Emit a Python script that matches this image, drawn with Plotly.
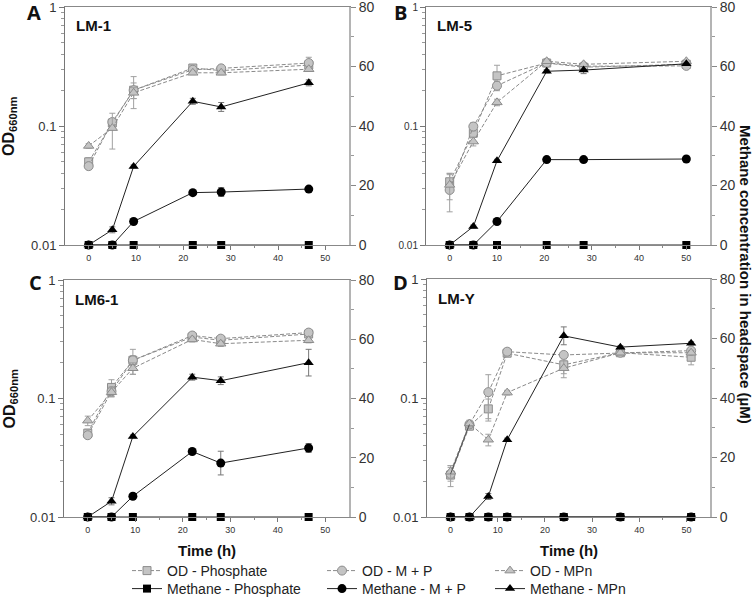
import plotly.graph_objects as go

# ---------------- data ----------------
A_t = [0, 5, 9.5, 22, 28, 46.5]
A_od_phos = [0.050, 0.106, 0.200, 0.307, 0.292, 0.325]
A_od_mp = [0.046, 0.108, 0.200, 0.297, 0.305, 0.338]
A_od_mpn = [0.068, 0.096, 0.190, 0.280, 0.280, 0.300]
A_od_phos_err = [0.004, 0.008, 0.06, 0.015, 0.01, 0.02]
A_od_mp_err = [0.003, 0.006, 0.03, 0.01, 0.01, 0.04]
A_od_mpn_err = [0.003, 0.032, 0.02, 0.01, 0.01, 0.01]
A_ch4_phos = [0, 0, 0, 0, 0, 0]
A_ch4_mp = [0, 0, 7.9, 17.6, 17.8, 18.8]
A_ch4_mpn = [0, 5.1, 26.4, 48.3, 46.4, 54.5]
A_ch4_mp_err = [0, 0, 0.5, 0.5, 1.5, 0.5]
A_ch4_mpn_err = [0, 1, 0.5, 1, 1.5, 1]

B_t = [0, 5, 10, 20.5, 28.3, 50]
B_od_phos = [0.034, 0.087, 0.264, 0.338, 0.312, 0.330]
B_od_mp = [0.029, 0.099, 0.218, 0.340, 0.318, 0.320]
B_od_mpn = [0.032, 0.074, 0.158, 0.350, 0.330, 0.350]
B_od_phos_err = [0.006, 0.006, 0.06, 0.01, 0.01, 0.01]
B_od_mp_err = [0.01, 0.008, 0.02, 0.01, 0.01, 0.01]
B_od_mpn_err = [0.008, 0.006, 0.01, 0.01, 0.01, 0.01]
B_ch4_phos = [0, 0, 0, 0, 0, 0]
B_ch4_mp = [0, 0, 7.9, 28.7, 28.7, 28.9]
B_ch4_mpn = [0, 6.2, 28.3, 58.4, 58.8, 60.9]
B_ch4_mp_err = [0, 0, 0.5, 0.5, 0.5, 0.5]
B_ch4_mpn_err = [0, 0.5, 0.5, 0.5, 1.2, 0.5]

C_t = [0, 5, 9.5, 22, 28, 46.5]
C_od_phos = [0.051, 0.124, 0.210, 0.330, 0.310, 0.350]
C_od_mp = [0.049, 0.115, 0.210, 0.340, 0.320, 0.360]
C_od_mpn = [0.065, 0.113, 0.180, 0.315, 0.290, 0.310]
C_od_phos_err = [0.004, 0.02, 0.05, 0.02, 0.015, 0.02]
C_od_mp_err = [0.003, 0.01, 0.02, 0.01, 0.01, 0.01]
C_od_mpn_err = [0.006, 0.01, 0.02, 0.015, 0.015, 0.015]
C_ch4_phos = [0, 0, 0, 0, 0, 0]
C_ch4_mp = [0, 0, 7.0, 22.1, 18.2, 23.3]
C_ch4_mpn = [0, 5.3, 27.2, 47.2, 46.0, 52.1]
C_ch4_mp_err = [0, 0, 0.5, 0.5, 4, 1.5]
C_ch4_mpn_err = [0, 1.2, 0.5, 1, 1.3, 4.5]

D_t = [0, 4, 8, 12, 24, 36, 51]
D_od_phos = [0.0225, 0.058, 0.081, 0.238, 0.190, 0.240, 0.220]
D_od_mp = [0.023, 0.060, 0.112, 0.245, 0.230, 0.240, 0.250]
D_od_mpn = [0.024, 0.061, 0.0446, 0.111, 0.178, 0.240, 0.240]
D_od_phos_err = [0.0045, 0.004, 0.017, 0.01, 0.03, 0.01, 0.03]
D_od_mp_err = [0.003, 0.004, 0.045, 0.01, 0.01, 0.01, 0.01]
D_od_mpn_err = [0.003, 0.004, 0.005, 0.005, 0.03, 0.01, 0.01]
D_ch4_phos = [0, 0, 0, 0, 0, 0, 0]
D_ch4_mp = [0, 0, 0, 0, 0, 0, 0]
D_ch4_mpn = [0, 0, 6.9, 26.0, 60.9, 57.1, 58.4]
D_ch4_mp_err = [0, 0, 0, 0, 0, 0, 0]
D_ch4_mpn_err = [0, 0, 1, 0.5, 3, 0.5, 0.5]

panel_letters = ["A", "B", "C", "D"]
strain_names = ["LM-1", "LM-5", "LM6-1", "LM-Y"]
series_names = ["OD - Phosphate", "OD - M + P", "OD - MPn",
                "Methane - Phosphate", "Methane - M + P", "Methane - MPn"]
od_ticks = [0.01, 0.1, 1]
od_ticktext = ["0.01", "0.1", "1"]
ch4_ticks = [0, 20, 40, 60, 80]
x_ticks = [0, 10, 20, 30, 40, 50]

panels = [
    (A_t, [A_od_phos, A_od_mp, A_od_mpn], [A_od_phos_err, A_od_mp_err, A_od_mpn_err],
     [A_ch4_phos, A_ch4_mp, A_ch4_mpn], [None, A_ch4_mp_err, A_ch4_mpn_err]),
    (B_t, [B_od_phos, B_od_mp, B_od_mpn], [B_od_phos_err, B_od_mp_err, B_od_mpn_err],
     [B_ch4_phos, B_ch4_mp, B_ch4_mpn], [None, B_ch4_mp_err, B_ch4_mpn_err]),
    (C_t, [C_od_phos, C_od_mp, C_od_mpn], [C_od_phos_err, C_od_mp_err, C_od_mpn_err],
     [C_ch4_phos, C_ch4_mp, C_ch4_mpn], [None, C_ch4_mp_err, C_ch4_mpn_err]),
    (D_t, [D_od_phos, D_od_mp, D_od_mpn], [D_od_phos_err, D_od_mp_err, D_od_mpn_err],
     [D_ch4_phos, D_ch4_mp, D_ch4_mpn], [None, D_ch4_mp_err, D_ch4_mpn_err]),
]

# ---------------- layout helpers ----------------
W, H = 754, 598
def px(x):
    return x / W
def py(y):
    return 1 - y / H

# pixel boxes (left, right, top, bottom)
boxes = [(65, 349, 7, 245), (426, 710, 7, 245), (64, 349, 280, 517), (427, 710, 279, 517)]

FONT = "Liberation Sans, Arial, sans-serif"
symbols = ["square", "circle", "triangle-up"]
msizes = [8, 9, 9]
legend_ids = ["legend", "legend2", "legend3", "legend4", "legend5", "legend6"]

fig = go.Figure()

for i, (t, ods, od_errs, ch4s, ch4_errs) in enumerate(panels):
    n = i + 1
    xa = "x" if n == 1 else f"x{n}"
    ya = "y" if n == 1 else f"y{n}"
    ya2 = f"y{n + 4}"
    for k in range(3):
        fig.add_trace(go.Scatter(
            x=t, y=ods[k], xaxis=xa, yaxis=ya, mode="lines+markers",
            name=series_names[k], legendgroup=series_names[k], showlegend=(i == 0),
            legend=legend_ids[k],
            line=dict(color="#8a8a8a", width=1, dash="4px,2px"),
            marker=dict(symbol=symbols[k], size=msizes[k], color="#c4c4c4",
                        line=dict(color="#8c8c8c", width=1)),
            error_y=dict(type="data", array=od_errs[k], color="#a0a0a0", thickness=1, width=3),
            cliponaxis=False,
        ))
    if n == 4:
        fig.add_trace(go.Scatter(
            x=t[:2], y=ods[1][:2], xaxis=xa, yaxis=ya, mode="lines", showlegend=False,
            line=dict(color="#555555", width=1), hoverinfo="skip"))
    for k in range(3):
        err = ch4_errs[k]
        fig.add_trace(go.Scatter(
            x=t, y=ch4s[k], xaxis=xa, yaxis=ya2, mode="lines+markers",
            name=series_names[k + 3], legendgroup=series_names[k + 3], showlegend=(i == 0),
            legend=legend_ids[k + 3],
            line=dict(color="#222222", width=1),
            marker=dict(symbol=symbols[k], size=msizes[k], color="#000000",
                        line=dict(color="#000000", width=0)),
            error_y=(dict(type="data", array=err, color="#777777", thickness=1, width=3)
                     if err is not None else None),
            cliponaxis=False,
        ))

layout = dict(
    width=W, height=H, margin=dict(l=0, r=0, t=0, b=0, autoexpand=False),
    plot_bgcolor="white", paper_bgcolor="white",
    font=dict(family=FONT, color="#222222"),
)

od_minor = [v * m for v in [0.01, 0.1] for m in range(2, 10)]

for i, (l, r, tp, bt) in enumerate(boxes):
    n = i + 1
    xkey = "xaxis" if n == 1 else f"xaxis{n}"
    ykey = "yaxis" if n == 1 else f"yaxis{n}"
    y2key = f"yaxis{n + 4}"
    ya = "y" if n == 1 else f"y{n}"
    xa = "x" if n == 1 else f"x{n}"
    layout[xkey] = dict(
        domain=[px(l), px(r)], anchor=ya, range=[-5, 55],
        tickvals=x_ticks, ticks="outside", ticklen=4, tickcolor="#777777",
        tickfont=dict(size=9, color="#333333", family=FONT),
        showline=True, linecolor="#888888", linewidth=1, mirror=True,
        showgrid=False, zeroline=False, ticklabeloverflow="allow",
        minor=dict(tickvals=[5, 15, 25, 35, 45], ticks="outside", ticklen=2, tickcolor="#888888"),
    )
    left_font = 10 if n == 2 else 13
    layout[ykey] = dict(
        domain=[py(bt), py(tp)], anchor=xa, type="log", range=[-2, 0],
        tickvals=od_ticks, ticktext=od_ticktext, ticks="outside", ticklen=5,
        tickcolor="#777777", tickfont=dict(size=left_font, color="#333333", family=FONT),
        showline=True, linecolor="#777777", linewidth=1, showgrid=False, zeroline=False,
        ticklabeloverflow="allow",
        minor=dict(tickvals=od_minor, ticks="outside", ticklen=3, tickcolor="#999999"),
    )
    layout[y2key] = dict(
        overlaying=ya, anchor=xa, side="right", range=[0, 80],
        tickvals=ch4_ticks, ticks="outside", ticklen=5, tickcolor="#888888",
        tickfont=dict(size=14, color="#333333", family=FONT),
        showline=True, linecolor="#b4b4b4", linewidth=2, showgrid=False, zeroline=False,
        ticklabeloverflow="allow",
        minor=dict(tickvals=[10, 30, 50, 70], ticks="outside", ticklen=3, tickcolor="#999999"),
    )

# six single-entry legends: 3 columns x 2 rows
leg_common = dict(orientation="v", yanchor="middle", xanchor="left", bgcolor="rgba(0,0,0,0)",
                  font=dict(size=14, color="#222222", family=FONT), tracegroupgap=0,
                  itemwidth=30)
col_x = [127, 322, 490]
row_y = [571, 589]
for k in range(6):
    layout[legend_ids[k]] = dict(x=px(col_x[k % 3]), y=py(row_y[k // 3]), **leg_common)

annotations = []
letter_pos = [(34, 13), (400, 13), (35, 282), (400, 282)]
for i, (lx, ly) in enumerate(letter_pos):
    annotations.append(dict(text=f"<b>{panel_letters[i]}</b>", x=px(lx), y=py(ly), xref="paper",
                            yref="paper", showarrow=False, xanchor="center", yanchor="middle",
                            font=dict(size=20, family="Open Sans, sans-serif", color="#111111")))
for i, (l, r, tp, bt) in enumerate(boxes):
    annotations.append(dict(text=f"<b>{strain_names[i]}</b>", x=px(l + 9), y=py(tp + 19),
                            xref="paper", yref="paper", showarrow=False, xanchor="left",
                            yanchor="middle", font=dict(size=15, family=FONT, color="#111111")))
for (l, r, tp, bt) in [boxes[0], boxes[2]]:
    annotations.append(dict(text="<b>OD<sub>660nm</sub></b>", x=px(10), y=py((tp + bt) / 2),
                            xref="paper", yref="paper", showarrow=False, textangle=-90,
                            xanchor="center", yanchor="middle",
                            font=dict(size=16, family=FONT, color="#111111")))
for (l, r, tp, bt) in [boxes[2], boxes[3]]:
    annotations.append(dict(text="<b>Time (h)</b>", x=px((l + r) / 2), y=py(550),
                            xref="paper", yref="paper", showarrow=False,
                            xanchor="center", yanchor="middle",
                            font=dict(size=15, family=FONT, color="#111111")))
annotations.append(dict(text="<b>Methane concentration in headspace (µM)</b>", x=px(745), y=py(274),
                        xref="paper", yref="paper", showarrow=False, textangle=90,
                        xanchor="center", yanchor="middle",
                        font=dict(size=15, family=FONT, color="#111111")))
layout["annotations"] = annotations

fig.update_layout(**layout)
fig.write_html("out.html", config={"displayModeBar": False},
               post_script="document.body.style.margin='0px';document.body.style.overflow='hidden';")
